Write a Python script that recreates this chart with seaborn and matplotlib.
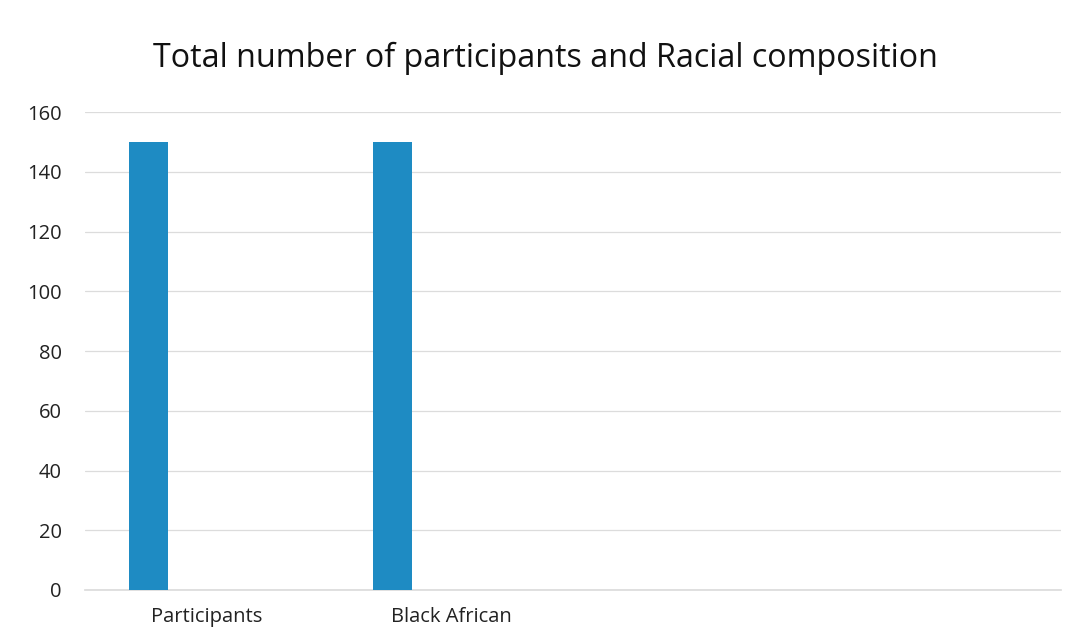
import matplotlib
matplotlib.use("Agg")
import matplotlib.pyplot as plt
import seaborn as sns
import pandas as pd

categories = ["Participants", "Black African", "", " "]
series = ["Count", "s2", "s3", "s4"]
count_values = [150, 150, 0, 0]
s2_values = [0, 0, 0, 0]
s3_values = [0, 0, 0, 0]
s4_values = [0, 0, 0, 0]
yticks = [0, 20, 40, 60, 80, 100, 120, 140, 160]

sns.set_theme(style="white")
plt.rcParams['font.family'] = ['Open Sans', 'DejaVu Sans']

rows = []
for name, vals in zip(series, [count_values, s2_values, s3_values, s4_values]):
    for c, v in zip(categories, vals):
        rows.append({"category": c, "value": v, "series": name})
df = pd.DataFrame(rows)

fig = plt.figure(figsize=(10.74, 6.42), dpi=100)
ax = fig.add_axes([0.079, 0.081, 0.909, 0.7445])

sns.barplot(data=df, x="category", y="value", hue="series",
            order=categories, hue_order=series, dodge=True,
            palette=["#1E8BC3"] * 4, saturation=1,
            width=0.64, linewidth=0, legend=False, ax=ax, zorder=3)

ax.set_ylim(0, 160)
ax.set_yticks(yticks)
ax.yaxis.grid(True, color="#dcdcdc", linewidth=0.9)
ax.set_axisbelow(True)
for s in ["top", "right", "left"]:
    ax.spines[s].set_visible(False)
ax.spines["bottom"].set_color("#dcdcdc")
ax.set_xlabel("")
ax.set_ylabel("")
ax.tick_params(axis="y", length=0, pad=16.5, labelsize=14.5, labelcolor="#222222")
ax.tick_params(axis="x", length=0, pad=12, labelsize=14.5, labelcolor="#222222")
fig.text(0.508, 0.909, "Total number of participants and Racial composition",
         ha="center", va="center", fontsize=23.2, color="#111111")

fig.savefig("out.png", dpi=100)
